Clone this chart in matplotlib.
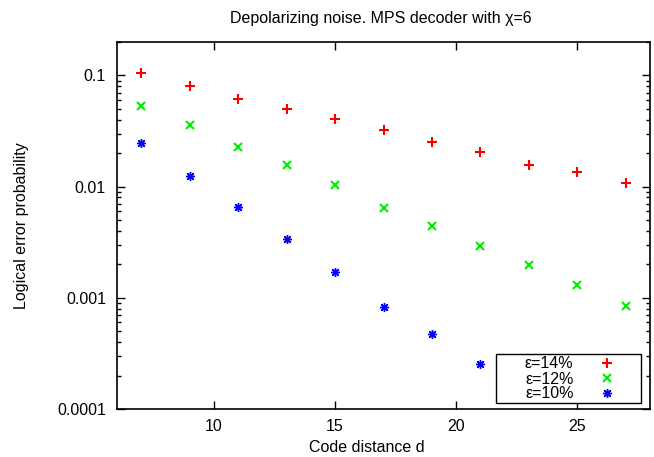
import numpy as np
import matplotlib.pyplot as plt
from matplotlib.patches import Rectangle
from matplotlib.ticker import FixedLocator, NullFormatter

plt.rcParams['font.family'] = ['Liberation Sans', 'DejaVu Sans']
plt.rcParams['font.size'] = 11.5

# data
d = [7, 9, 11, 13, 15, 17, 19, 21, 23, 25, 27]
p14 = [0.105, 0.080, 0.062, 0.0497, 0.0407, 0.0323, 0.0251, 0.0204, 0.0158, 0.0135, 0.0108]
p12 = [0.0528, 0.0358, 0.0228, 0.0156, 0.0103, 0.00637, 0.0044, 0.00291, 0.00197, 0.0013, 0.00085]
d10 = [7, 9, 11, 13, 15, 17, 19, 21]
p10 = [0.0249, 0.01253, 0.0066, 0.00337, 0.00172, 0.000826, 0.000477, 0.000252]

labels = ["\u03b5=14%", "\u03b5=12%", "\u03b5=10%"]
yticks = [1e-4, 1e-3, 1e-2, 1e-1]
ytick_labels = ["0.0001", "0.001", "0.01", "0.1"]
xticks = [10, 15, 20, 25]

W, H = 654, 457
fig = plt.figure(figsize=(W/100, H/100), dpi=100)
# frame: x 117..650, y 42..409 (pixels)
ax = fig.add_axes([117/W, 1 - 409/H, (650 - 117)/W, (409 - 42)/H])

ax.plot(d, p14, linestyle='None', marker='+', color='#ff0000', markersize=6.5, mew=1.5, label=labels[0])
ax.plot(d, p12, linestyle='None', marker='x', color='#00ee00', markersize=6, mew=1.5, label=labels[1])
ax.plot(d10, p10, linestyle='None', marker=(8, 2, 0), color='#0000ff', markersize=6.5, mew=1.0, label=labels[2])

ax.set_yscale('log')
ax.set_xlim(6, 28)
ax.set_ylim(1e-4, 0.2)
ax.set_xticks(xticks)
ax.set_yticks(yticks)
ax.set_yticklabels(ytick_labels)
minors = [m * 10.0**e for e in range(-4, 0) for m in range(2, 10)]
ax.yaxis.set_minor_locator(FixedLocator(minors))
ax.yaxis.set_minor_formatter(NullFormatter())
ax.tick_params(which='both', direction='in', top=True, right=True, width=1)
ax.tick_params(which='major', length=5.5, labelsize=11.5)
ax.tick_params(axis='y', which='major', pad=8)
ax.tick_params(axis='x', which='major', pad=7)
ax.tick_params(which='minor', length=3)
ax.tick_params(axis='x', which='minor', bottom=False, top=False)
for s in ax.spines.values():
    s.set_linewidth(1.2)

ax.set_xlabel("Code distance d", fontsize=11.5, va='center')
ax.xaxis.set_label_coords((367 - 117)/533, -(448 - 409)/367)
ax.set_ylabel("Logical error probability", fontsize=11.5, va='center')
ax.yaxis.set_label_coords(-(117 - 22)/533, 0.5)
fig.text(381/W, 1 - 18/H, "Depolarizing noise. MPS decoder with \u03c7=6", ha='center', va='center', fontsize=11.5)

# key box like gnuplot's
box = Rectangle((496/W, 1 - 403/H), (641 - 496)/W, (403 - 354)/H, transform=fig.transFigure,
                facecolor='white', edgecolor='black', linewidth=1.0, zorder=4, clip_on=False)
ax.add_patch(box)
leg = ax.legend(loc='center', bbox_to_anchor=(570/W, 1 - 379/H), bbox_transform=fig.transFigure,
                markerfirst=False, frameon=False, fontsize=11.5,
                labelspacing=0.0, handletextpad=1.6, handlelength=1.0, borderpad=0, borderaxespad=0)
leg.set_zorder(6)

plt.savefig("out.png", dpi=100)
